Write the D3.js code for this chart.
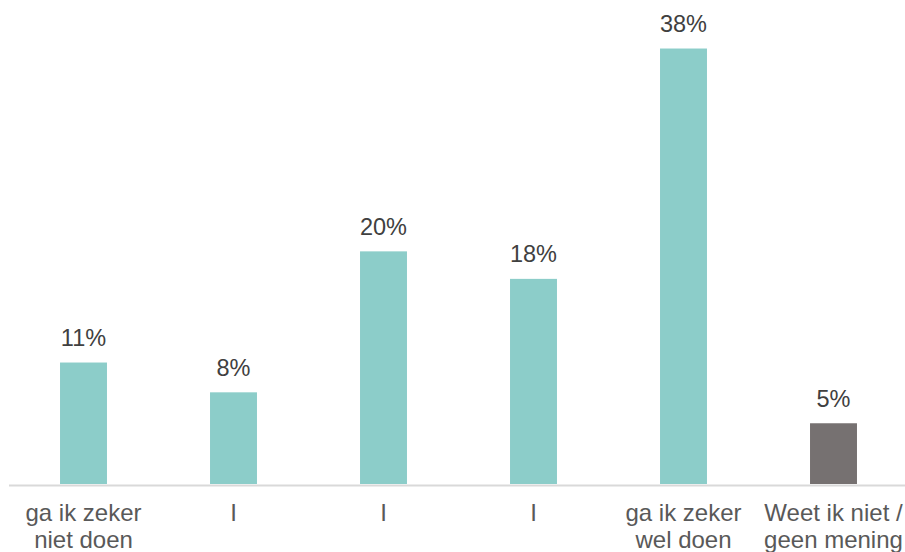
<!DOCTYPE html>
<html>
<head>
<meta charset="utf-8">
<script src="https://cdn.jsdelivr.net/npm/d3@7"></script>
<style>
  html, body { margin: 0; padding: 0; background: #fff; }
  svg { display: block; font-family: "Liberation Sans", Arial, sans-serif; }
</style>
</head>
<body>
<script>
"use strict";

// data
const categories = ["ga ik zeker|niet doen", "I", "I", "I", "ga ik zeker|wel doen", "Weet ik niet /|geen mening"];
const values = [10.6, 8.0, 20.3, 17.9, 38.0, 5.3];
const valueLabels = ["11%", "8%", "20%", "18%", "38%", "5%"];
const barColors = ["#8ccdc9", "#8ccdc9", "#8ccdc9", "#8ccdc9", "#8ccdc9", "#767171"];

const measurements = {
    width: 905,
    height: 552,
    baseline: 484
};

const svg = d3.select("body").append("svg")
    .attr("width", measurements.width)
    .attr("height", measurements.height);

const keys = categories.map((c, i) => i);

const scaleX = d3.scaleBand()
    .domain(keys)
    .range([8.5, 908.5])
    .paddingInner(0.687)
    .paddingOuter(0.3435);

const scaleY = d3.scaleLinear()
    .domain([0, 40])
    .range([measurements.baseline, measurements.baseline - 40 * 11.46]);

// bars
svg.selectAll("rect.bar")
    .data(keys)
    .enter()
    .append("rect")
    .attr("class", "bar")
    .attr("x", i => scaleX(i))
    .attr("y", i => scaleY(values[i]))
    .attr("width", scaleX.bandwidth())
    .attr("height", i => scaleY(0) - scaleY(values[i]))
    .attr("fill", i => barColors[i]);

// value labels
svg.selectAll("text.value")
    .data(keys)
    .enter()
    .append("text")
    .attr("class", "value")
    .attr("x", i => scaleX(i) + scaleX.bandwidth() / 2)
    .attr("y", i => scaleY(values[i]) - 16.5)
    .attr("text-anchor", "middle")
    .style("font-size", "23.5px")
    .style("fill", "#404040")
    .text(i => valueLabels[i]);

// x axis
const xAxis = d3.axisBottom(scaleX)
    .tickSize(0)
    .tickFormat(() => "");

const axisG = svg.append("g")
    .attr("transform", `translate(0,${measurements.baseline + 1})`)
    .call(xAxis);

axisG.select(".domain")
    .attr("stroke", "#d9d9d9")
    .attr("stroke-width", 2);

axisG.selectAll(".tick text").remove();

axisG.selectAll(".tick")
    .append("text")
    .attr("text-anchor", "middle")
    .style("font-size", "24px")
    .style("fill", "#595959")
    .selectAll("tspan")
    .data(i => categories[i].split("|"))
    .enter()
    .append("tspan")
    .attr("x", 0)
    .attr("y", (d, j) => 36 + j * 26.5)
    .text(d => d);
</script>
</body>
</html>
